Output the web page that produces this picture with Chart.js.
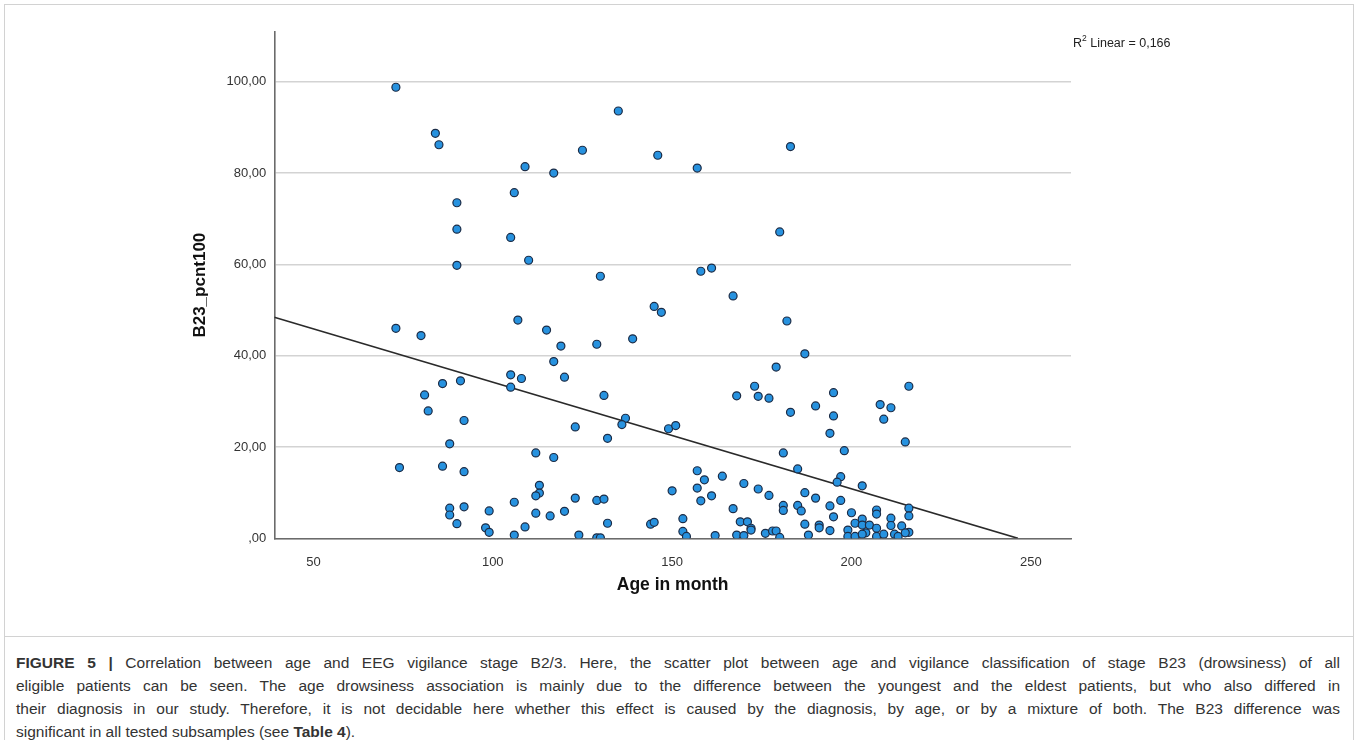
<!DOCTYPE html>
<html>
<head>
<meta charset="utf-8">
<script src="https://cdn.jsdelivr.net/npm/chart.js@4.4.0/dist/chart.umd.min.js"></script>
<style>
  body { margin: 0; background: #fff; font-family: "Liberation Sans", Arial, sans-serif; }
  #frame { position: absolute; left: 4px; top: 4px; width: 1348px; height: 760px; border: 1px solid #d2d2d2; }
  #sep { position: absolute; left: 4px; top: 636px; width: 1350px; height: 1px; background: #d2d2d2; }
  #wrap { position: absolute; left: 0; top: 0; width: 1358px; height: 640px; }
  #r2 { position: absolute; left: 1073px; top: 34px; font-size: 12.5px; color: #222; white-space: nowrap; }
  #r2 sup { font-size: 8.5px; position: relative; top: -1px; }
  #caption { position: absolute; left: 16px; top: 651px; width: 1324px; font-size: 15.5px; line-height: 23px; color: #333; }
  #caption .j { text-align: justify; text-align-last: justify; white-space: nowrap; }
</style>
</head>
<body>
<div id="frame"></div>
<div id="sep"></div>
<div id="wrap"><canvas id="scatter"></canvas></div>
<div id="r2">R<sup>2</sup> Linear = 0,166</div>
<div id="caption">
  <div class="j"><b>FIGURE 5 |</b> Correlation between age and EEG vigilance stage B2/3. Here, the scatter plot between age and vigilance classification of stage B23 (drowsiness) of all</div>
  <div class="j">eligible patients can be seen. The age drowsiness association is mainly due to the difference between the youngest and the eldest patients, but who also differed in</div>
  <div class="j">their diagnosis in our study. Therefore, it is not decidable here whether this effect is caused by the diagnosis, by age, or by a mixture of both. The B23 difference was</div>
  <div>significant in all tested subsamples (see <b>Table 4</b>).</div>
</div>
<script>
// age in months vs. B23 percentage
const ages = [
  73, 84, 85, 90, 90, 90, 135, 125, 146, 109, 117, 157, 106, 105, 110, 130, 158, 161, 183, 180,
  73, 80, 86, 91, 81, 82, 92, 88, 74, 86, 92, 88, 88, 92, 90,
  167, 145, 147, 107, 115, 139, 129, 119, 117, 105, 108, 120, 105, 131, 173, 168, 174, 177,
  137, 136, 123, 149, 151, 132, 112, 117,
  157, 159, 164, 170, 157, 150, 174, 177, 113, 113, 112, 158, 161, 123, 129, 131, 106, 99, 120, 112, 116,
  167, 169, 171, 172, 172, 176, 153, 153, 154, 144, 145, 132, 109, 98, 99, 106, 124, 129, 130, 162, 168, 170,
  178, 179, 180,
  182, 187, 179, 216, 195, 190, 208, 211, 183, 195, 209, 194, 215, 198, 181, 185, 197, 196, 203, 187,
  190, 197, 181, 181, 185, 186, 194, 207, 207, 216, 216, 195, 200, 187, 191, 191, 194, 188,
  201, 203, 203, 205, 204, 207, 211, 211, 214, 216, 199, 199, 201, 203, 207, 209, 212, 213, 215
];
const b23 = [
  98.8, 88.7, 86.2, 73.5, 67.7, 59.8, 93.6, 85.0, 83.9, 81.4, 80.0, 81.1, 75.7, 65.9, 60.9, 57.4, 58.5, 59.2, 85.8, 67.1,
  46.0, 44.4, 33.9, 34.5, 31.4, 27.9, 25.8, 20.7, 15.5, 15.8, 14.6, 6.6, 5.1, 6.9, 3.2,
  53.1, 50.8, 49.5, 47.8, 45.6, 43.7, 42.5, 42.1, 38.7, 35.8, 35.0, 35.3, 33.1, 31.3, 33.3, 31.2, 31.1, 30.7,
  26.3, 24.9, 24.4, 24.0, 24.7, 21.9, 18.7, 17.7,
  14.8, 12.8, 13.6, 12.0, 11.0, 10.4, 10.8, 9.4, 11.6, 9.9, 9.3, 8.2, 9.3, 8.8, 8.3, 8.6, 7.9, 6.0, 5.9, 5.5, 4.9,
  6.5, 3.6, 3.6, 2.2, 1.8, 1.1, 4.3, 1.5, 0.4, 3.1, 3.5, 3.3, 2.5, 2.3, 1.3, 0.7, 0.7, 0.1, 0.1, 0.6, 0.7, 0.6,
  1.6, 1.6, 0.2,
  47.6, 40.4, 37.5, 33.3, 31.9, 29.0, 29.3, 28.6, 27.6, 26.8, 26.1, 23.0, 21.1, 19.2, 18.7, 15.2, 13.5, 12.3, 11.5, 10.0,
  8.8, 8.3, 7.2, 6.1, 7.2, 6.0, 7.1, 6.2, 5.3, 6.6, 4.9, 4.7, 5.6, 3.1, 2.9, 2.3, 1.7, 0.7,
  3.3, 4.2, 2.9, 2.9, 1.2, 2.2, 4.4, 2.8, 2.7, 1.3, 1.8, 0.4, 0.4, 0.9, 0.4, 0.9, 0.9, 0.4, 1.2
];

// linear fit line, ends as drawn
const fitX = [39.1, 246.4];
const fitY = [48.4, 0];

const xTicks = [50, 100, 150, 200, 250];
const yTicks = [0, 20, 40, 60, 80, 100];
const yTickLabels = [',00', '20,00', '40,00', '60,00', '80,00', '100,00'];

const points = ages.map((a, i) => ({ x: a, y: b23[i] }));
const fitLine = fitX.map((x, i) => ({ x: x, y: fitY[i] }));

new Chart(document.getElementById('scatter'), {
    type: 'scatter',
    data: {
        datasets: [
            {
                label: 'B23_pcnt100',
                data: points,
                backgroundColor: '#2792df',
                borderColor: '#1c2c46',
                borderWidth: 1.2,
                pointRadius: 4,
                pointHoverRadius: 4
            },
            {
                label: 'Linear',
                type: 'line',
                data: fitLine,
                borderColor: '#2a2a2a',
                borderWidth: 1.6,
                pointRadius: 0,
                fill: false
            }
        ]
    },
    options: {
        responsive: true,
        maintainAspectRatio: false,
        animation: false,
        layout: { padding: { left: 190, right: 287, top: 32, bottom: 44.8 } },
        plugins: {
            legend: { display: false },
            tooltip: { enabled: false }
        },
        scales: {
            x: {
                type: 'linear',
                min: 39.1,
                max: 261.2,
                afterBuildTicks: (scale) => { scale.ticks = xTicks.map(v => ({ value: v })); },
                afterFit: (scale) => { scale.height = 56.9; },
                grid: { display: false },
                border: { display: true, color: '#6b6b6b', width: 1.6 },
                ticks: {
                    color: '#333',
                    font: { family: '"Liberation Sans", Arial, sans-serif', size: 13 },
                    padding: 8,
                    maxRotation: 0
                },
                title: {
                    display: true,
                    text: 'Age in month',
                    color: '#111',
                    font: { family: '"Liberation Sans", Arial, sans-serif', size: 17.5, weight: 'bold' },
                    padding: 0
                }
            },
            y: {
                type: 'linear',
                min: 0,
                max: 110.9,
                afterBuildTicks: (scale) => { scale.ticks = yTicks.map(v => ({ value: v })); },
                afterFit: (scale) => { scale.width = 84.3; },
                grid: { color: '#d3d3d3', lineWidth: 1.6, drawTicks: false },
                border: { display: true, color: '#6b6b6b', width: 1.6 },
                ticks: {
                    color: '#333',
                    font: { family: '"Liberation Sans", Arial, sans-serif', size: 13 },
                    padding: 8,
                    callback: (value) => yTickLabels[yTicks.indexOf(value)]
                },
                title: {
                    display: true,
                    text: 'B23_pcnt100',
                    color: '#111',
                    font: { family: '"Liberation Sans", Arial, sans-serif', size: 17, weight: 'bold' },
                    padding: 0
                }
            }
        }
    }
});
</script>
</body>
</html>
